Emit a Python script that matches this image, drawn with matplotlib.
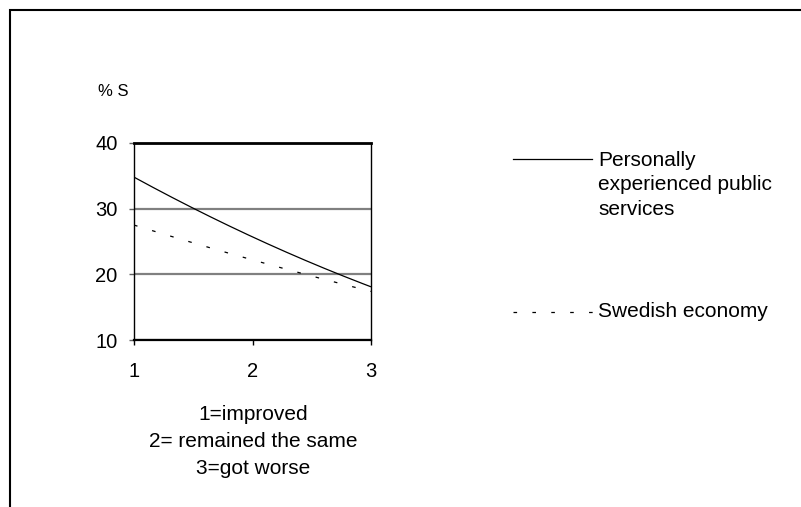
import numpy as np
import matplotlib
matplotlib.use("Agg")
import matplotlib.pyplot as plt
from matplotlib.lines import Line2D

plt.rcParams['font.family'] = ['Liberation Sans', 'DejaVu Sans']
plt.rcParams['lines.scale_dashes'] = False

# ---- data ----
x_codes = [1, 2, 3]
x_tick_labels = ["1", "2", "3"]
y_ticks = [10, 20, 30, 40]
series_names = ["Personally\nexperienced public\nservices", "Swedish economy"]
public_services = [34.8, 25.7, 18.1]
swedish_economy = [27.5, 22.2, 17.4]
y_label = "% S"
x_explanation = "1=improved\n2= remained the same\n3=got worse"

W, H = 801, 507
fig = plt.figure(figsize=(W / 100, H / 100), dpi=100)
fig.patch.set_facecolor('white')

left, right = 134 / W, 371 / W
bottom, top = 1 - 340 / H, 1 - 143 / H
ax = fig.add_axes([left, bottom, right - left, top - bottom])

def smooth(xs, ys):
    c = np.polyfit(xs, ys, 2)
    xx = np.linspace(min(xs), max(xs), 200)
    return xx, np.polyval(c, xx)

xs, ys = smooth(x_codes, public_services)
ax.plot(xs, ys, color='black', lw=0.9, zorder=3, solid_capstyle='butt')
xs2, ys2 = smooth(x_codes, swedish_economy)
ax.plot(xs2, ys2, color='black', lw=0.9, zorder=3, dashes=(2.6, 11.0), dash_capstyle='butt')

ax.set_xlim(1, 3)
ax.set_ylim(10, 40)
ax.set_xticks(x_codes)
ax.set_xticklabels(x_tick_labels)
ax.set_yticks(y_ticks)
ax.tick_params(axis='both', direction='out', length=3.8, width=1.0, colors='black', labelsize=14.5)
ax.tick_params(axis='y', pad=8.0, color='#606060')
ax.tick_params(axis='x', pad=12)

ax.yaxis.grid(True, color='#808080', lw=1.6)
ax.set_axisbelow(True)
for side in ['left', 'right']:
    ax.spines[side].set_linewidth(1.0)
    ax.spines[side].set_color('black')
ax.spines['top'].set_linewidth(2.0)
ax.spines['bottom'].set_linewidth(1.6)

fig.text(98 / W, 1 - 91 / H, y_label, fontsize=12, ha='left', va='center')
fig.text(253 / W, 1 - 441.5 / H, x_explanation, fontsize=15, ha='center', va='center',
         linespacing=1.5)

# legend
leg_x0, leg_x1, text_x = 513 / W, 592 / W, 598 / W
fig.add_artist(Line2D([leg_x0, leg_x1], [1 - 159.5 / H, 1 - 159.5 / H], color='black', lw=0.9))
fig.text(text_x, 1 - 151 / H, series_names[0], fontsize=15, ha='left', va='top',
         linespacing=1.36)
fig.add_artist(Line2D([leg_x0, leg_x1 + 1 / W], [1 - 312 / H, 1 - 312 / H], color='black', lw=0.9,
                      dashes=(2.6, 11.0)))
fig.text(text_x, 1 - 311.5 / H, series_names[1], fontsize=15, ha='left', va='center')

# outer border (left and top)
fig.add_artist(Line2D([9.5 / W, 9.5 / W, 1.0], [0.0, 1 - 10 / H, 1 - 10 / H],
                      color='black', lw=1.5, solid_joinstyle='miter'))

fig.savefig('out.png', dpi=100, facecolor='white')
